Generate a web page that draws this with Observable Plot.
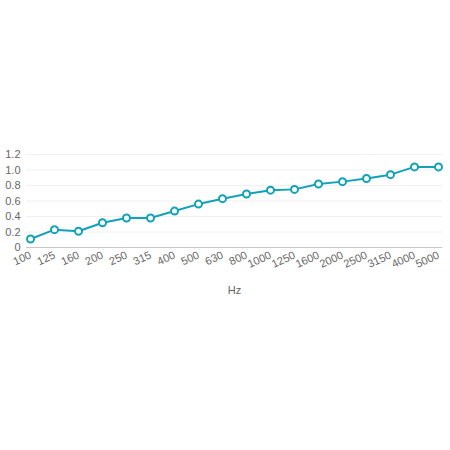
<!DOCTYPE html>
<html><head><meta charset="utf-8">
<script src="https://cdn.jsdelivr.net/npm/d3@7"></script>
<script src="https://cdn.jsdelivr.net/npm/@observablehq/plot@0.6"></script>
<style>body{margin:0;background:#fff;}</style>
</head><body><div id="chart"></div>
<script>
const freqs = ["100","125","160","200","250","315","400","500","630","800","1000","1250","1600","2000","2500","3150","4000","5000"];
const values = [0.11,0.23,0.21,0.32,0.38,0.38,0.47,0.56,0.63,0.69,0.74,0.75,0.82,0.85,0.89,0.94,1.04,1.04];
const yTicks = [0,0.2,0.4,0.6,0.8,1.0,1.2];
const data = freqs.map((f,i)=>({f, v: values[i]}));
const color = "#12a2b8";
const chart = Plot.plot({
  width: 450, height: 450,
  marginTop: 154, marginBottom: 203, marginLeft: 26, marginRight: 8,
  style: {fontFamily: "Liberation Sans, Arial, sans-serif", fontSize: "11px", color: "#666", background: "#fff"},
  x: {type: "point", domain: freqs, padding: 0},
  y: {domain: [0, 1.2]},
  marks: [
    Plot.gridY(yTicks.filter(d=>d>0), {stroke: "#f0f0f0", strokeOpacity: 1}),
    Plot.ruleY([0], {stroke: "#c8c8c8"}),
    Plot.axisY(yTicks, {tickSize: 0, tickPadding: 6, label: null, tickFormat: d => d === 0 ? "0" : d.toFixed(1), fill: "#666"}),
    Plot.axisX({tickSize: 0, tickPadding: 7, tickRotate: -25, label: "Hz", labelAnchor: "center", labelOffset: 46, fill: "#666"}),
    Plot.line(data, {x: "f", y: "v", stroke: color, strokeWidth: 2}),
    Plot.dot(data, {x: "f", y: "v", r: 3.5, fill: "white", stroke: color, strokeWidth: 2})
  ]
});
document.getElementById("chart").appendChild(chart);
</script></body></html>
